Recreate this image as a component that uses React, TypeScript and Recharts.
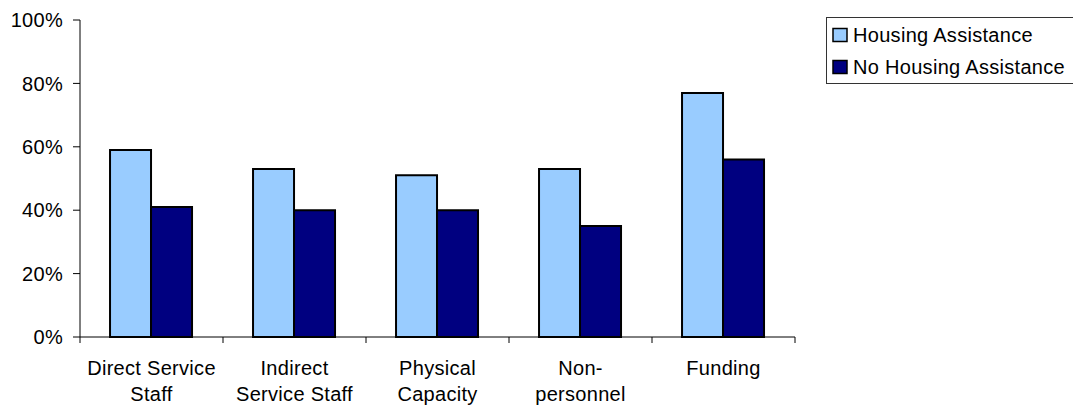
import type { FC } from 'react';
import { Bar, BarChart, XAxis, YAxis } from 'recharts';

const categories = [
  'Direct Service\nStaff',
  'Indirect\nService Staff',
  'Physical\nCapacity',
  'Non-\npersonnel',
  'Funding',
];
const housingAssistance = [59, 53, 51, 53, 77];
const noHousingAssistance = [41, 40, 40, 35, 56];
const yTicks = [0, 20, 40, 60, 80, 100];

const series = [
  { key: 'housing', name: 'Housing Assistance', fill: '#99CCFF' },
  { key: 'noHousing', name: 'No Housing Assistance', fill: '#000080' },
];

const data = categories.map((category, i) => ({
  category,
  housing: housingAssistance[i],
  noHousing: noHousingAssistance[i],
}));

const WIDTH = 1073;
const HEIGHT = 408;
const Y_AXIS_WIDTH = 80;
const X_AXIS_HEIGHT = 71;
const MARGIN = { top: 20, right: 278, bottom: 0, left: 0 };
const BAND = (WIDTH - MARGIN.left - MARGIN.right - Y_AXIS_WIDTH) / categories.length;

const FONT = '"Liberation Sans", Arial, sans-serif';
const textStyle = { fontFamily: FONT, fontSize: 20, letterSpacing: 0.3, fill: '#000' };

const CategoryTick: FC<any> = ({ x, y, payload, index }) => {
  const lines = String(payload.value).split('\n');
  return (
    <g>
      <line x1={x - BAND / 2} x2={x - BAND / 2} y1={y} y2={y + 6} stroke='#000' />
      {index === categories.length - 1 && (
        <line x1={x + BAND / 2} x2={x + BAND / 2} y1={y} y2={y + 6} stroke='#000' />
      )}
      <text x={x} y={y + 38} textAnchor='middle' style={textStyle}>
        {lines.map((l, i) => (
          <tspan key={i} x={x} dy={i === 0 ? 0 : 26}>
            {l}
          </tspan>
        ))}
      </text>
    </g>
  );
};

const LegendBox: FC = () => (
  <svg
    width={260}
    height={68}
    style={{ position: 'absolute', left: 826, top: 17, overflow: 'visible' }}
  >
    <rect x={0.5} y={0.5} width={259} height={66} fill='#fff' stroke='#333' />
    {series.map((s, i) => (
      <g key={s.key}>
        <rect x={7} y={11.5 + i * 32} width={14} height={13} fill={s.fill} stroke='#000' strokeWidth={1.5} />
        <text x={27} y={25 + i * 32} style={textStyle}>
          {s.name}
        </text>
      </g>
    ))}
  </svg>
);

const App: FC = () => (
  <div style={{ position: 'absolute', left: 0, top: 0, width: WIDTH, height: HEIGHT, background: '#fff' }}>
    <BarChart
      width={WIDTH}
      height={HEIGHT}
      data={data}
      margin={MARGIN}
      barCategoryGap='21%'
      barGap={0}
    >
      <XAxis
        dataKey='category'
        height={X_AXIS_HEIGHT}
        tickLine={false}
        tickSize={0}
        tickMargin={0}
        axisLine={{ stroke: '#000' }}
        tick={<CategoryTick />}
        interval={0}
      />
      <YAxis
        width={Y_AXIS_WIDTH}
        domain={[0, 100]}
        ticks={yTicks}
        tickFormatter={(v: number) => `${v}%`}
        tickSize={7}
        tickMargin={10}
        axisLine={{ stroke: '#000' }}
        tickLine={{ stroke: '#000' }}
        tick={textStyle}
      />
      {series.map((s) => (
        <Bar
          key={s.key}
          dataKey={s.key}
          name={s.name}
          fill={s.fill}
          stroke='#000'
          strokeWidth={2}
          isAnimationActive={false}
        />
      ))}
    </BarChart>
    <LegendBox />
  </div>
);

export default App;
